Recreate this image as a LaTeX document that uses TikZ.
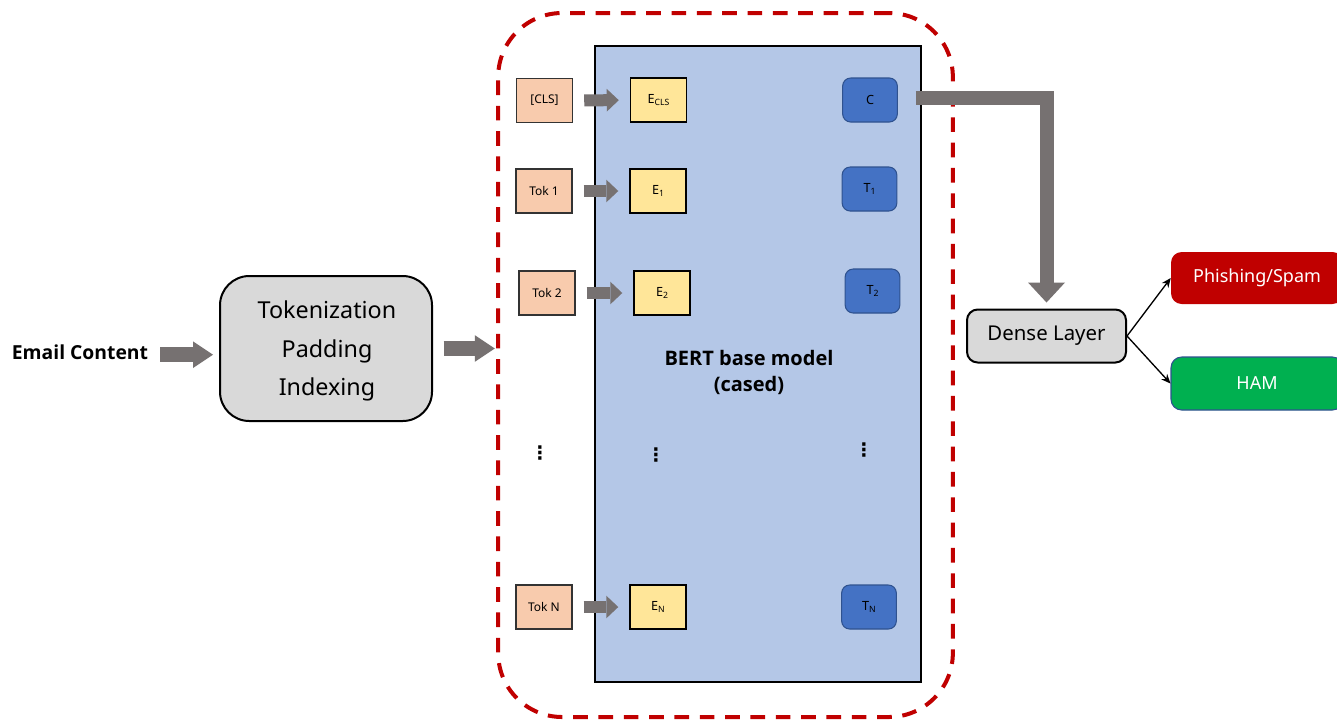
\documentclass[tikz,border=0pt]{standalone}
\usepackage{fontspec}
\setmainfont{Noto Sans}
\newfontfamily\boldfam{Open Sans}
\newfontfamily\dejavu{DejaVu Sans}
\usetikzlibrary{arrows.meta}
\definecolor{arrgray}{HTML}{767171}
\definecolor{peach}{HTML}{F8CBAD}
\definecolor{ebox}{HTML}{FFE699}
\definecolor{bertblue}{HTML}{B4C7E7}
\definecolor{tblue}{HTML}{4472C4}
\definecolor{tborder}{HTML}{2F528F}
\definecolor{darkred}{HTML}{C00000}
\definecolor{hamgreen}{HTML}{00B050}
\definecolor{lgray}{HTML}{D9D9D9}
\newcommand\lowsub[1]{\raisebox{-0.4ex}{\fontsize{6.5}{7}\selectfont #1}}
\begin{document}
\begin{tikzpicture}[x=0.75pt,y=-0.75pt,
  tokbox/.style={draw=black!80, line width=1.1pt, fill=peach, minimum width=42pt, minimum height=33pt, inner sep=0pt, font=\fontsize{9}{10}\selectfont},
  embbox/.style={draw=black, line width=1.1pt, fill=ebox, minimum width=42pt, minimum height=33pt, inner sep=0pt, font=\fontsize{9.5}{11}\selectfont},
  outbox/.style={draw=tborder, line width=0.8pt, fill=tblue, rounded corners=6pt, minimum width=41pt, minimum height=33pt, inner sep=0pt, font=\fontsize{9.5}{11}\selectfont},
  smarr/.style={draw=arrgray, line width=9pt, -{Triangle[length=9pt,width=17pt,line width=0pt]}},
  bigarr/.style={draw=arrgray, line width=11pt, -{Triangle[length=15pt,width=20pt,line width=0pt]}},
  thin/.style={draw=black, line width=1pt, -{Stealth[length=7pt,width=6pt]}},
  vdot/.style={inner sep=0pt, font=\dejavu\bfseries\fontsize{14}{14}\selectfont}
]
\clip (0,0) rectangle (1337,719);
\fill[white] (0,0) rectangle (1337,719);

% outer dashed region
\node[draw=darkred, line width=3pt, dash pattern=on 11pt off 8pt, rounded corners=48pt,
      minimum width=341pt, minimum height=528pt, inner sep=0pt] (outer) at (725.5,365) {};

% BERT box
\node[draw=black, line width=1.5pt, fill=bertblue, minimum width=244.5pt, minimum height=477pt, inner sep=0pt] (bert) at (758,364) {};
\node[font=\boldfam\bfseries\fontsize{15}{19.5}\selectfont, align=center] (bertlbl) at (749,372) {BERT base model\\(cased)};

% Email content
\node[font=\boldfam\bfseries\fontsize{14.5}{16}\selectfont, inner sep=0pt] (email) at (80,352) {Email Content};

% preprocessing box
\node[draw=black, line width=1.5pt, fill=lgray, rounded corners=22pt, minimum width=159pt, minimum height=108.75pt] (prep) at (326,348.5) {};
\node[align=center, font=\fontsize{17.5}{29}\selectfont] (preplbl) at (327,351) {Tokenization\\Padding\\Indexing};

% tokens
\node[tokbox] (cls) at (544.5,100.5) {[CLS]};
\node[tokbox] (tok1) at (544,191) {Tok 1};
\node[tokbox] (tok2) at (547,293) {Tok 2};
\node[tokbox] (tokn) at (544,607) {Tok N};

% embeddings
\node[embbox] (ecls) at (658.5,100) {E\lowsub{CLS}};
\node[embbox] (e1) at (658,191) {E\lowsub{1}};
\node[embbox] (e2) at (662,293) {E\lowsub{2}};
\node[embbox] (en) at (658,607) {E\lowsub{N}};

% outputs
\node[outbox] (c) at (870,100) {C};
\node[outbox] (t1) at (869.5,189) {T\lowsub{1}};
\node[outbox] (t2) at (872.5,291) {T\lowsub{2}};
\node[outbox] (tn) at (869,607) {T\lowsub{N}};

% dots
\node[vdot] (d1) at (540,453) {⋮};
\node[vdot] (d2) at (656,455) {⋮};
\node[vdot] (d3) at (864,450) {⋮};

% dense and classes
\node[draw=black, line width=1.5pt, fill=lgray, rounded corners=8pt, minimum width=119.25pt, minimum height=39.75pt,
      inner sep=0pt, font=\fontsize{15.3}{17}\selectfont] (dense) at (1046.5,336) {Dense Layer};
\node[fill=darkred, rounded corners=8pt, minimum width=129pt, minimum height=39pt, inner sep=0pt,
      text=white, font=\fontsize{13.5}{15}\selectfont] (spam) at (1257,278) {Phishing/Spam};
\node[fill=hamgreen, draw=tborder, line width=0.8pt, rounded corners=8pt, minimum width=129pt, minimum height=39.75pt, inner sep=0pt,
      text=white, font=\fontsize{13.5}{15}\selectfont] (ham) at (1257,383.5) {HAM};

% arrows
\draw[bigarr, shorten <=9pt, shorten >=4.5pt] ([yshift=-2pt]email.east) -- ([yshift=-2pt]email.east -| prep.west);
\draw[bigarr, shorten <=8pt, shorten >=1pt] (prep.east) -- (prep.east -| outer.west);
\draw[smarr, shorten <=8.25pt, shorten >=8.25pt] (cls) -- (ecls);
\draw[smarr, shorten <=8.25pt, shorten >=8.25pt] (tok1) -- (e1);
\draw[smarr, shorten <=8.25pt, shorten >=8.25pt] (tok2) -- (e2);
\draw[smarr, shorten <=8.25pt, shorten >=8.25pt] (tokn) -- (en);
\draw[draw=arrgray, line width=10.5pt, line join=miter, -{Triangle[length=15pt,width=27.75pt,line width=0pt]}, shorten >=4.5pt]
  ([xshift=13.5pt,yshift=1.5pt]c.east) -| (dense.north);
\draw[thin] (dense.east) -- (spam.west);
\draw[thin] (dense.east) -- (ham.west);
\end{tikzpicture}
\end{document}
